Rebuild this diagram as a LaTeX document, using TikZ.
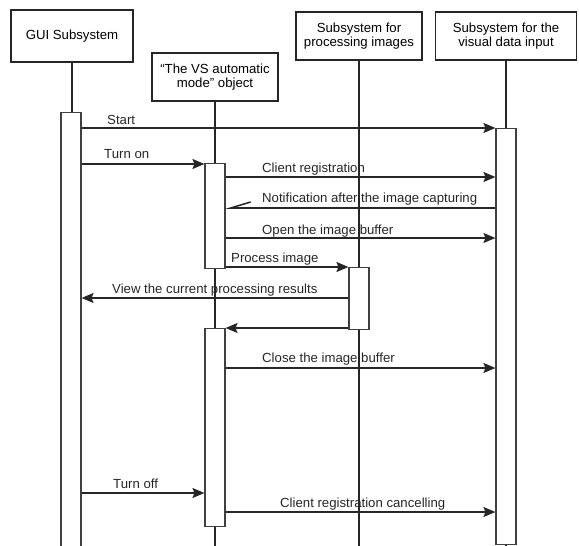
\documentclass[tikz,border=0pt]{standalone}
\usepackage{fontspec}
\setmainfont{Liberation Sans}
\usetikzlibrary{arrows.meta}

\begin{document}
\begin{tikzpicture}[x=1pt,y=-1pt,>={Stealth[length=12pt,width=10pt,inset=2pt]},line join=miter,
  head/.style={draw=black!85,line width=1.5pt,fill=white,align=center,inner sep=0pt,font=\fontsize{13.2}{14.5}\selectfont},
  bar/.style={draw=black!75,line width=1.1pt,fill=white,minimum width=20pt,inner sep=0pt,anchor=north},
  life/.style={draw=black!85,line width=1.5pt},
  msg/.style={->,draw=black!85,line width=1.5pt},
  msgtext/.style={anchor=base west,inner sep=0pt,font=\fontsize{13.2}{14.5}\selectfont,text=black!85}]
\useasboundingbox (0,0) rectangle (579,546);
\node[head,minimum width=122pt,minimum height=52pt] (gui) at (72,36) {GUI Subsystem};
\node[head,minimum width=126pt,minimum height=48pt] (vsm) at (215,77) {``The VS automatic\\mode'' object};
\node[head,minimum width=126pt,minimum height=48pt] (proc) at (359,36) {Subsystem for\\processing images};
\node[head,minimum width=141pt,minimum height=48pt] (vis) at (506,36) {Subsystem for the\\visual data input};
\coordinate (guiend) at (72,552);
\coordinate (vsmend) at (215,552);
\coordinate (procend) at (359,552);
\coordinate (visend) at (506,552);
\draw[life] (gui.south) -- (guiend);
\draw[life] (vsm.south) -- (vsmend);
\draw[life] (proc.south) -- (procend);
\draw[life] (vis.south) -- (visend);
\node[bar,minimum height=444pt] (guibar) at (71,112) {};
\node[bar,minimum height=416pt] (visbar) at (506,128) {};
\node[bar,minimum height=105pt] (vsbarA) at (215,163) {};
\node[bar,minimum height=62pt] (procbar) at (359,267) {};
\node[bar,minimum height=198pt] (vsbarB) at (215,328) {};
\coordinate (mStart) at (0,128);
\coordinate (mTurnOn) at (0,164);
\coordinate (mReg) at (0,177);
\coordinate (mNote) at (0,208);
\coordinate (mOpen) at (0,238);
\coordinate (mProc) at (0,267);
\coordinate (mView) at (0,298);
\coordinate (mBack) at (0,328);
\coordinate (mClose) at (0,368);
\coordinate (mTurnOff) at (0,493);
\coordinate (mCancel) at (0,512);
\draw[msg] (guibar.east |- mStart) -- (visbar.west |- mStart);
\draw[msg] (guibar.east |- mTurnOn) -- (vsbarA.west |- mTurnOn);
\draw[msg] (vsbarA.east |- mReg) -- (visbar.west |- mReg);
\draw[->,>={Straight Barb[harpoon,swap,length=20pt,width=12pt]},draw=black!85,line width=1.5pt] (visbar.west |- mNote) -- (vsbarA.east |- mNote);
\draw[msg] (vsbarA.east |- mOpen) -- (visbar.west |- mOpen);
\draw[msg] (vsbarA.east |- mProc) -- (procbar.west |- mProc);
\draw[msg] (procbar.west |- mView) -- (guibar.east |- mView);
\draw[msg] (procbar.west |- mBack) -- (vsbarB.east |- mBack);
\draw[msg] (vsbarB.east |- mClose) -- (visbar.west |- mClose);
\draw[msg] (guibar.east |- mTurnOff) -- (vsbarB.west |- mTurnOff);
\draw[msg] (vsbarB.east |- mCancel) -- (visbar.west |- mCancel);
\node[msgtext] (tStart) at (107,124) {Start};
\node[msgtext] (tTurnOn) at (104,158) {Turn on};
\node[msgtext] (tReg) at (262,172) {Client registration};
\node[msgtext] (tNote) at (262,202) {Notification after the image capturing};
\node[msgtext] (tOpen) at (262,234) {Open the image buffer};
\node[msgtext] (tProc) at (231,262) {Process image};
\node[msgtext] (tView) at (112,293) {View the current processing results};
\node[msgtext] (tClose) at (262,362) {Close the image buffer};
\node[msgtext] (tTurnOff) at (113,488) {Turn off};
\node[msgtext] (tCancel) at (280,507) {Client registration cancelling};
\end{tikzpicture}
\end{document}
